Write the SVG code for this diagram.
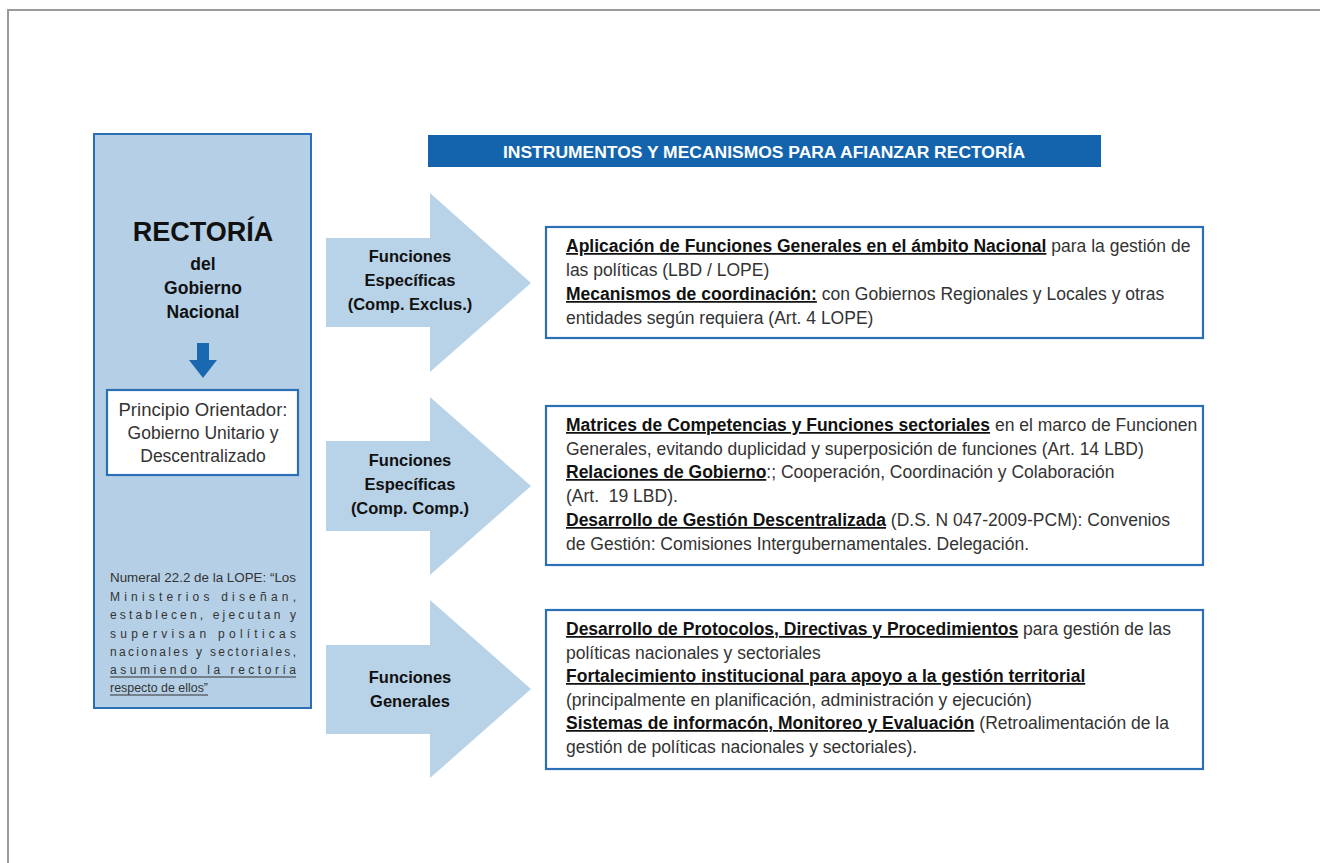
<svg xmlns="http://www.w3.org/2000/svg" width="1320" height="863" viewBox="0 0 1320 863">
<style>
.frame{fill:none;stroke:#9a9a9a;stroke-width:2}
.panel{fill:#b5d0e6;stroke:#2b6fb6;stroke-width:2}
.box{fill:#fff;stroke:#2b6fb6;stroke-width:2.2}
.arrow{fill:#b8d3e8}
.hdr{fill:#1464ad}
.t{font-family:"Liberation Sans",Arial,sans-serif;fill:#333}
.b{font-weight:bold;fill:#111}
.u{text-decoration:underline}
.body{font-size:17.5px}
.ctr{text-anchor:middle}
.small{font-size:12px}
.ul{stroke:#333;stroke-width:1}
</style>
<path class="frame" d="M8,863 V10 H1320"/>

<g id="rectoria">
<rect class="panel" x="94" y="134" width="217" height="574"/>
<text class="t b ctr" x="203" y="241" font-size="27">RECTORÍA</text>
<text class="t b ctr" x="203" y="270" font-size="17.5">del</text>
<text class="t b ctr" x="203" y="294" font-size="17.5">Gobierno</text>
<text class="t b ctr" x="203" y="318" font-size="17.5">Nacional</text>
<path d="M197,343 H209 V360 H217 L203,378 L189,360 H197 Z" fill="#1a68b0"/>
</g>

<g id="principio">
<rect class="box" x="107" y="390" width="191" height="85"/>
<text class="t ctr" x="203" y="416" font-size="17.5" textLength="169" lengthAdjust="spacingAndGlyphs">Principio Orientador:</text>
<text class="t ctr" x="203" y="439" font-size="17.5">Gobierno Unitario y</text>
<text class="t ctr" x="203" y="462" font-size="17.5">Descentralizado</text>
</g>

<g id="numeral" class="t small">
<text x="110" y="582" textLength="186" lengthAdjust="spacingAndGlyphs">Numeral 22.2 de la LOPE: “Los</text>
<text x="110" y="601" textLength="186" lengthAdjust="spacing">Ministerios diseñan,</text>
<text x="110" y="619" textLength="186" lengthAdjust="spacing">establecen, ejecutan y</text>
<text x="110" y="638" textLength="186" lengthAdjust="spacing">supervisan políticas</text>
<text x="110" y="656" textLength="186" lengthAdjust="spacing">nacionales y sectoriales,</text>
<text x="110" y="674" textLength="186" lengthAdjust="spacing">asumiendo la rectoría</text>
<text x="110" y="692" textLength="98" lengthAdjust="spacingAndGlyphs">respecto de ellos”</text>
<line class="ul" x1="110" y1="677" x2="296" y2="677"/>
<line class="ul" x1="110" y1="695" x2="208" y2="695"/>
</g>

<g id="header">
<rect class="hdr" x="428" y="135" width="673" height="32"/>
<text class="t b ctr" x="764" y="158" font-size="16" textLength="522" lengthAdjust="spacingAndGlyphs" style="fill:#fff">INSTRUMENTOS Y MECANISMOS PARA AFIANZAR RECTORÍA</text>
</g>

<g id="connectors">
<path class="arrow" d="M326,238 H430 V193 L531,283 L430,372 V327 H326 Z"/>
<path class="arrow" d="M326,441 H430 V397 L531,486 L430,575 V531 H326 Z"/>
<path class="arrow" d="M326,645 H430 V600 L531,689 L430,778 V734 H326 Z"/>
</g>

<g id="arrow1-label" class="t b ctr" font-size="16.5">
<text x="410" y="262">Funciones</text>
<text x="410" y="286">Específicas</text>
<text x="410" y="310">(Comp. Exclus.)</text>
</g>
<g id="arrow2-label" class="t b ctr" font-size="16.5">
<text x="410" y="466">Funciones</text>
<text x="410" y="490">Específicas</text>
<text x="410" y="514">(Comp. Comp.)</text>
</g>
<g id="arrow3-label" class="t b ctr" font-size="16.5">
<text x="410" y="683">Funciones</text>
<text x="410" y="707">Generales</text>
</g>

<g id="box1">
<rect class="box" x="546" y="227" width="657" height="111"/>
<text class="t body" x="566" y="252"><tspan class="b u">Aplicación de Funciones Generales en el ámbito Nacional</tspan> para la gestión de</text>
<text class="t body" x="566" y="276">las políticas (LBD / LOPE)</text>
<text class="t body" x="566" y="300"><tspan class="b u">Mecanismos de coordinación:</tspan> con Gobiernos Regionales y Locales y otras</text>
<text class="t body" x="566" y="324">entidades según requiera (Art. 4 LOPE)</text>
</g>

<g id="box2">
<rect class="box" x="546" y="406" width="657" height="159"/>
<text class="t body" x="566" y="431"><tspan class="b u">Matrices de Competencias y Funciones sectoriales</tspan> en el marco de Funcionen</text>
<text class="t body" x="566" y="455">Generales, evitando duplicidad y superposición de funciones (Art. 14 LBD)</text>
<text class="t body" x="566" y="478"><tspan class="b u">Relaciones de Gobierno</tspan>:; Cooperación, Coordinación y Colaboración</text>
<text class="t body" x="566" y="502">(Art.&#160; 19 LBD).</text>
<text class="t body" x="566" y="526"><tspan class="b u">Desarrollo de Gestión Descentralizada</tspan> (D.S. N 047-2009-PCM): Convenios</text>
<text class="t body" x="566" y="550">de Gestión: Comisiones Intergubernamentales. Delegación.</text>
</g>

<g id="box3">
<rect class="box" x="546" y="610" width="657" height="159"/>
<text class="t body" x="566" y="635"><tspan class="b u">Desarrollo de Protocolos, Directivas y Procedimientos</tspan> para gestión de las</text>
<text class="t body" x="566" y="659">políticas nacionales y sectoriales</text>
<text class="t body" x="566" y="682"><tspan class="b u">Fortalecimiento institucional para apoyo a la gestión territorial</tspan></text>
<text class="t body" x="566" y="706">(principalmente en planificación, administración y ejecución)</text>
<text class="t body" x="566" y="729"><tspan class="b u">Sistemas de informacón, Monitoreo y Evaluación</tspan> (Retroalimentación de la</text>
<text class="t body" x="566" y="753">gestión de políticas nacionales y sectoriales).</text>
</g>
</svg>
